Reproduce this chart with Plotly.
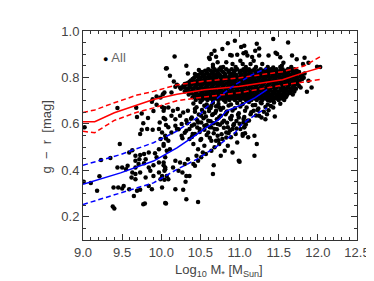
import plotly.graph_objects as go

# ---- data ----
# outlying / sparse galaxies: (log10 M*, g - r)
sparse_gal = [
    (9.02,0.585),(9.01,0.351),(9.10,0.345),(9.18,0.312),(9.23,0.444),(9.21,0.374),(9.35,0.453),
    (9.39,0.326),(9.38,0.244),(9.40,0.236),(9.44,0.668),(9.44,0.412),(9.45,0.326),(9.47,0.513),
    (9.50,0.412),(9.50,0.322),(9.52,0.333),(9.55,0.405),(9.57,0.420),(9.59,0.477),(9.59,0.319),
    (9.62,0.369),(9.63,0.487),(9.63,0.391),(9.65,0.290),(9.67,0.463),(9.67,0.441),(9.67,0.412),
    (9.67,0.384),(9.67,0.362),(9.68,0.670),(9.69,0.630),(9.69,0.312),(9.71,0.427),(9.72,0.448),
    (9.73,0.556),(9.73,0.466),(9.73,0.391),(9.73,0.316),(9.75,0.645),(9.75,0.575),(9.77,0.603),
    (9.77,0.254),(9.79,0.257),(9.78,0.470),(9.78,0.431),(9.80,0.448),(9.80,0.369),(9.82,0.578),
    (9.83,0.625),(9.84,0.477),(9.84,0.412),(9.84,0.333),(9.86,0.398),(9.88,0.695),(9.88,0.319),
    (9.89,0.706),(9.89,0.575),(9.90,0.656),(9.90,0.422),(9.90,0.376),(9.92,0.474),(9.94,0.718),
    (9.94,0.682),(9.94,0.456),(9.97,0.578),(9.97,0.491),(9.97,0.434),(9.97,0.391),(9.98,0.606),
    (9.99,0.714),(9.99,0.535),(9.99,0.362),(10.01,0.673),(10.01,0.563),(10.01,0.376),(10.01,0.326),
    (10.02,0.728),(10.03,0.625),(10.03,0.513),(10.03,0.422),(10.04,0.668),(10.04,0.735),(10.05,0.405),
    (10.05,0.259),(10.06,0.839),(10.06,0.595),(10.06,0.537),
    (10.17,0.890),(10.07,0.840),(10.11,0.807),(10.16,0.783),(10.20,0.769),(10.13,0.735),(10.18,0.760),
    (10.24,0.757),(10.32,0.850),(10.34,0.817),(10.43,0.815),(10.48,0.832),(10.53,0.807),(10.60,0.786),
    (10.62,0.879),(10.64,0.901),(10.68,0.915),(10.70,0.889),(10.78,0.922),(10.85,0.947),(10.90,0.894),
    (10.94,0.958),(10.97,0.898),(11.01,0.872),(11.05,0.904),(11.04,0.858),(10.91,0.858),(10.83,0.865),
    (10.76,0.843),(10.72,0.865),(10.66,0.855),(10.55,0.786),(10.41,0.779),(10.47,0.772),(10.30,0.772),
    (10.36,0.772),
    (10.03,0.657),(10.09,0.671),(10.15,0.657),(10.21,0.664),(10.05,0.620),(10.13,0.635),(10.18,0.620),
    (10.24,0.635),(10.28,0.649),(10.34,0.657),(10.43,0.664),(10.32,0.616),(10.39,0.628),(10.26,0.599),
    (10.18,0.592),(10.09,0.585),(10.39,0.592),(10.47,0.606),(10.51,0.635),(10.55,0.649),(10.60,0.671),
    (10.64,0.678),(10.66,0.642),(10.70,0.657),(10.74,0.671),(10.76,0.635),(10.83,0.649),(10.55,0.592),
    (10.60,0.613),(10.64,0.585),(10.72,0.599),(10.78,0.606),(10.89,0.620),(10.93,0.599),(10.99,0.628),
    (11.05,0.606),(10.85,0.585),(11.01,0.578),(10.22,0.577),
    (10.03,0.506),(10.07,0.484),(10.11,0.491),(10.05,0.456),(10.03,0.434),(10.05,0.412),(10.04,0.398),
    (10.07,0.376),(10.09,0.362),(10.04,0.359),(10.18,0.441),(10.15,0.412),(10.22,0.398),(10.24,0.434),
    (10.27,0.391),(10.32,0.376),(10.36,0.376),(10.31,0.351),(10.30,0.427),(10.34,0.448),(10.41,0.427),
    (10.43,0.420),(10.47,0.441),(10.45,0.463),(10.51,0.456),(10.53,0.477),(10.57,0.470),(10.64,0.484),
    (10.68,0.499),(10.70,0.527),(10.74,0.513),(10.78,0.535),(10.76,0.463),(10.85,0.506),(10.89,0.542),
    (10.95,0.556),(10.99,0.441),(10.67,0.422),(10.66,0.384),(10.18,0.319),(10.28,0.316),(10.32,0.276),
    (10.47,0.264),(10.06,0.257),
    (10.05,0.549),(10.13,0.563),(10.20,0.578),(10.26,0.549),(10.32,0.570),(10.36,0.535),(10.41,0.513),
    (10.43,0.556),(10.49,0.578),(10.51,0.535),(10.55,0.506),(10.60,0.563),(10.64,0.527),(10.68,0.578),
    (10.72,0.549),(10.83,0.563),(10.91,0.578),(10.97,0.520),(11.04,0.549),(10.09,0.527),(10.47,0.491),
    (10.81,0.484),(10.91,0.477),
    (11.43,0.966),(11.62,0.951),(11.06,0.937),(11.10,0.894),(11.20,0.915),(11.25,0.894),(11.18,0.872),
    (11.37,0.894),(11.48,0.901),(11.52,0.887),(11.67,0.894),(11.81,0.858),(11.99,0.846),(11.88,0.786),
    (11.86,0.738),(11.92,0.757),(11.14,0.858),(11.29,0.858),(11.43,0.843),(11.54,0.850),(11.62,0.836),
    (11.73,0.822),(11.79,0.800),(11.71,0.771),(11.65,0.743),(11.73,0.786),(11.43,0.671),(11.33,0.620),
    (11.35,0.642),(11.18,0.657),(11.25,0.635),(11.10,0.613),(11.27,0.692),(11.39,0.700),(11.50,0.728),
    (11.56,0.743),(11.60,0.721),(11.06,0.585),(11.45,0.632),
    (11.02,0.931),(11.08,0.909),(11.25,0.925),(11.22,0.945),(11.16,0.888),(11.46,0.906),(11.56,0.863),
    (11.73,0.878),(11.83,0.885),(11.88,0.863),(12.03,0.845),(10.61,0.885),(10.88,0.897),
    (11.06,0.585),(11.04,0.556),(11.07,0.560),(11.11,0.542),(11.19,0.549),(11.22,0.513),(11.19,0.463),
    (11.00,0.437),
]

# between the two sequences (moderately populated)
green_gal = [
    (10.41,0.688),(10.50,0.694),(10.58,0.684),(10.66,0.691),(10.73,0.686),(10.82,0.695),(10.89,0.683),
    (10.97,0.690),(11.04,0.686),(11.12,0.694),(11.20,0.681),(11.28,0.689),(11.36,0.684),(11.44,0.692),
    (11.52,0.687),(10.45,0.672),(10.55,0.678),(10.63,0.668),(10.70,0.676),(10.79,0.670),(10.86,0.679),
    (10.94,0.667),(11.01,0.675),(11.09,0.671),(11.17,0.680),(11.24,0.666),(11.33,0.673),(11.40,0.677),
    (10.43,0.652),(10.52,0.660),(10.61,0.655),(10.69,0.648),(10.76,0.661),(10.84,0.653),(10.91,0.658),
    (10.99,0.646),(11.07,0.657),(11.15,0.650),(11.23,0.660),(11.31,0.652),(11.37,0.659),(10.48,0.640),
    (10.57,0.632),(10.65,0.638),(10.74,0.629),(10.82,0.641),(10.90,0.634),(10.98,0.639),(11.06,0.630),
    (11.14,0.642),(11.21,0.636),(11.28,0.628),(10.38,0.622),(10.46,0.616),(10.54,0.624),(10.63,0.611),
    (10.71,0.620),(10.80,0.614),(10.88,0.625),(10.96,0.612),(11.05,0.621),(11.12,0.615),(10.33,0.603),
    (10.42,0.597),(10.51,0.606),(10.58,0.595),(10.67,0.603),(10.75,0.596),(10.84,0.605),(10.92,0.594),
    (11.00,0.601),(11.08,0.597),(10.36,0.578),(10.46,0.584),(10.55,0.575),(10.62,0.586),(10.71,0.577),
    (10.80,0.583),(10.88,0.573),(10.96,0.580),(10.30,0.562),(10.40,0.556),(10.49,0.565),(10.58,0.552),
    (10.67,0.560),(10.77,0.555),(10.86,0.561),(10.27,0.538),(10.39,0.544),(10.50,0.531),(10.62,0.540),
    (10.73,0.530),(10.83,0.541),
]

# densely populated core of the red sequence: colour level -> masses
core_rows = [
    (0.845, [10.66,10.79,10.95,11.08,11.21,11.36,11.52,11.66]),
    (0.835, [10.60,10.68,10.74,10.83,10.90,10.97,11.05,11.12,11.19,11.27,11.34,11.40,11.47,11.55,11.63,11.70]),
    (0.829, [10.56,10.63,10.70,10.77,10.86,10.94,11.02,11.09,11.16,11.24,11.31,11.38,11.45,11.52,11.59,11.66,11.73]),
    (0.823, [10.52,10.58,10.66,10.72,10.79,10.86,10.93,11.00,11.06,11.13,11.21,11.28,11.35,11.41,11.49,11.56,11.62,11.69,11.76]),
    (0.817, [10.50,10.59,10.65,10.73,10.81,10.88,10.92,11.01,11.08,11.14,11.20,11.26,11.33,11.39,11.46,11.54,11.60,11.68,11.75,11.83]),
    (0.811, [10.47,10.55,10.62,10.69,10.75,10.82,10.89,10.96,11.03,11.10,11.16,11.23,11.30,11.37,11.44,11.51,11.58,11.65,11.72,11.80]),
    (0.805, [10.45,10.53,10.60,10.67,10.73,10.80,10.87,10.94,11.01,11.08,11.14,11.21,11.28,11.35,11.42,11.49,11.56,11.63,11.70,11.78]),
    (0.799, [10.42,10.50,10.57,10.64,10.70,10.77,10.85,10.91,10.99,11.06,11.12,11.19,11.26,11.33,11.40,11.46,11.53,11.61,11.67,11.74,11.82]),
    (0.793, [10.40,10.48,10.55,10.62,10.68,10.76,10.83,10.90,10.96,11.03,11.11,11.17,11.24,11.31,11.38,11.45,11.51,11.58,11.66,11.72,11.80]),
    (0.787, [10.38,10.46,10.52,10.60,10.67,10.74,10.80,10.88,10.94,11.01,11.08,11.15,11.22,11.29,11.35,11.43,11.49,11.56,11.63,11.70,11.77]),
    (0.781, [10.36,10.43,10.51,10.58,10.65,10.72,10.78,10.86,10.93,11.00,11.06,11.13,11.20,11.27,11.33,11.41,11.47,11.54,11.61,11.68,11.75]),
    (0.775, [10.33,10.41,10.48,10.55,10.62,10.69,10.76,10.83,10.90,10.97,11.04,11.10,11.17,11.24,11.31,11.38,11.45,11.52,11.59,11.66,11.73]),
    (0.769, [10.31,10.39,10.46,10.53,10.60,10.67,10.74,10.81,10.88,10.95,11.02,11.09,11.16,11.23,11.30,11.37,11.44,11.50,11.57,11.64,11.71]),
    (0.763, [10.28,10.36,10.44,10.51,10.58,10.65,10.72,10.79,10.86,10.93,11.00,11.07,11.14,11.21,11.28,11.35,11.42,11.48,11.55,11.62,11.69,11.76]),
    (0.757, [10.29,10.36,10.43,10.50,10.57,10.64,10.71,10.78,10.85,10.92,10.99,11.06,11.13,11.20,11.27,11.34,11.41,11.47,11.55,11.61,11.68,11.78]),
    (0.751, [10.25,10.32,10.40,10.47,10.54,10.61,10.68,10.75,10.82,10.89,10.96,11.03,11.10,11.17,11.24,11.31,11.38,11.45,11.52,11.58,11.65,11.72]),
    (0.745, [10.34,10.41,10.48,10.55,10.62,10.69,10.76,10.83,10.90,10.97,11.04,11.11,11.18,11.25,11.32,11.39,11.46,11.53,11.60,11.67]),
    (0.739, [10.30,10.37,10.44,10.51,10.58,10.65,10.72,10.79,10.86,10.93,11.00,11.07,11.14,11.21,11.28,11.35,11.42,11.49,11.56,11.63,11.70]),
    (0.733, [10.38,10.45,10.53,10.60,10.67,10.74,10.81,10.88,10.95,11.02,11.09,11.16,11.23,11.30,11.37,11.44,11.51,11.58,11.65]),
    (0.727, [10.35,10.42,10.49,10.56,10.63,10.70,10.77,10.84,10.91,10.98,11.05,11.12,11.19,11.26,11.33,11.40,11.47,11.54,11.61,11.68]),
    (0.721, [10.44,10.51,10.58,10.65,10.72,10.79,10.86,10.93,11.00,11.07,11.14,11.21,11.28,11.35,11.42,11.49,11.56]),
    (0.715, [10.40,10.47,10.54,10.61,10.68,10.75,10.82,10.89,10.96,11.03,11.10,11.17,11.24,11.31,11.38,11.45,11.52,11.59]),
    (0.709, [10.49,10.56,10.63,10.70,10.77,10.84,10.91,10.98,11.05,11.12,11.19,11.26,11.33,11.40,11.47,11.54]),
    (0.703, [10.44,10.52,10.59,10.66,10.73,10.80,10.87,10.94,11.01,11.08,11.15,11.22,11.29,11.36,11.43,11.50,11.57]),
]

# red-sequence median and spread
red_mass = [9.00, 9.15, 9.40, 9.69, 9.90, 10.20, 10.55, 10.99, 11.55, 11.83, 12.04]
red_med  = [0.609, 0.609, 0.648, 0.681, 0.705, 0.728, 0.747, 0.761, 0.790, 0.822, 0.843]
red_hi   = [0.649, 0.660, 0.691, 0.724, 0.740, 0.768, 0.784, 0.798, 0.825, 0.850, 0.891]
red_lo   = [0.568, 0.562, 0.615, 0.650, 0.669, 0.700, 0.716, 0.734, 0.767, 0.780, 0.792]

# blue-cloud median and spread
blue_mass = [9.00, 9.48, 9.90, 10.20, 10.45, 10.57, 10.74, 10.83, 11.04, 11.20, 11.35]
blue_med  = [0.340, 0.389, 0.440, 0.497, 0.554, 0.583, 0.620, 0.655, 0.684, 0.713, 0.748]
blue_hi_mass = [9.00, 9.48, 9.90, 10.20, 10.45, 10.57, 10.75, 10.95, 11.15, 11.35]
blue_hi      = [0.422, 0.468, 0.519, 0.569, 0.625, 0.669, 0.720, 0.770, 0.810, 0.840]
blue_lo_mass = [9.00, 9.48, 9.90, 10.20, 10.45, 10.74, 10.95, 11.03, 11.24, 11.35]
blue_lo      = [0.253, 0.303, 0.346, 0.404, 0.447, 0.510, 0.565, 0.598, 0.648, 0.668]

x_ticks = [9.0, 9.5, 10.0, 10.5, 11.0, 11.5, 12.0, 12.5]
y_ticks = [0.2, 0.4, 0.6, 0.8, 1.0]

# ---- build figure ----
gal_x = [p[0] for p in sparse_gal] + [p[0] for p in green_gal]
gal_y = [p[1] for p in sparse_gal] + [p[1] for p in green_gal]
for yy, xs in core_rows:
    for xx in xs:
        gal_x.append(xx)
        gal_y.append(yy)

fig = go.Figure()
fig.add_trace(go.Scatter(x=gal_x, y=gal_y, mode="markers",
                         marker=dict(size=4.5, color="black", line=dict(width=0)),
                         showlegend=False))

RED = "#ff0000"
BLUE = "#0000ff"
dash = "5px,3px"
fig.add_trace(go.Scatter(x=red_mass, y=red_med, mode="lines", line=dict(color=RED, width=1.5), showlegend=False))
fig.add_trace(go.Scatter(x=red_mass, y=red_hi, mode="lines", line=dict(color=RED, width=1.5, dash=dash), showlegend=False))
fig.add_trace(go.Scatter(x=red_mass, y=red_lo, mode="lines", line=dict(color=RED, width=1.5, dash=dash), showlegend=False))
fig.add_trace(go.Scatter(x=blue_mass, y=blue_med, mode="lines", line=dict(color=BLUE, width=1.5), showlegend=False))
fig.add_trace(go.Scatter(x=blue_hi_mass, y=blue_hi, mode="lines", line=dict(color=BLUE, width=1.5, dash=dash), showlegend=False))
fig.add_trace(go.Scatter(x=blue_lo_mass, y=blue_lo, mode="lines", line=dict(color=BLUE, width=1.5, dash=dash), showlegend=False))

FONT = "Liberation Sans, Arial, sans-serif"
TXT = "#444444"
axis_common = dict(showline=True, linecolor="#333333", linewidth=1, mirror="ticks",
                   ticks="inside", ticklen=6, tickcolor="#333333", showgrid=False, zeroline=False,
                   tickfont=dict(family=FONT, size=13, color=TXT))
fig.update_xaxes(range=[9.0, 12.5], tickvals=x_ticks, ticktext=[f"{v:.1f}" for v in x_ticks],
                 minor=dict(ticks="inside", ticklen=3, dtick=0.1, tick0=9.0, tickcolor="#333333"),
                 **axis_common)
fig.update_yaxes(range=[0.1, 1.0], tickvals=y_ticks, ticktext=[f"{v:.1f}" for v in y_ticks],
                 minor=dict(ticks="inside", ticklen=3, dtick=0.05, tick0=0.0, tickcolor="#333333"),
                 **axis_common)

# axis titles
fig.add_annotation(x=0.496, y=-0.148, xref="paper", yref="paper", xanchor="center", yanchor="middle",
                   text="Log<sub>10</sub> M<sub>*</sub> [M<sub>Sun</sub>]", showarrow=False,
                   font=dict(family=FONT, size=13, color=TXT))
fig.add_annotation(x=-0.133, y=0.493, xref="paper", yref="paper", xanchor="center", yanchor="middle",
                   text="g  \u2212  r  [mag]", textangle=-90, showarrow=False,
                   font=dict(family=FONT, size=13, color=TXT))

# legend label
fig.add_annotation(x=9.24, y=0.887, xref="x", yref="y", xanchor="left", yanchor="middle",
                   text="<span style='color:black;font-size:9px'>\u25cf</span> All", showarrow=False,
                   borderpad=0, font=dict(family=FONT, size=13, color="#666666"))

fig.update_layout(width=374, height=281, margin=dict(l=75, r=21, t=23, b=49),
                  paper_bgcolor="white", plot_bgcolor="white")

fig.write_html("out.html")
